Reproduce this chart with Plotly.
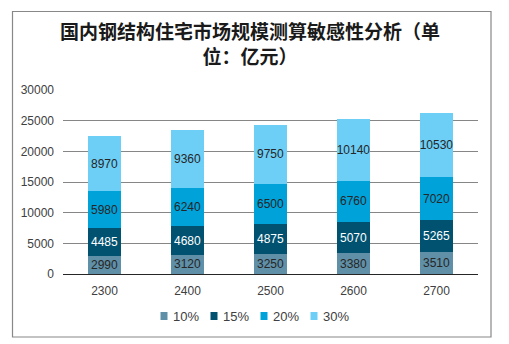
import plotly.graph_objects as go

categories = ["2300", "2400", "2500", "2600", "2700"]
series_names = ["10%", "15%", "20%", "30%"]
v10 = [2990, 3120, 3250, 3380, 3510]
v15 = [4485, 4680, 4875, 5070, 5265]
v20 = [5980, 6240, 6500, 6760, 7020]
v30 = [8970, 9360, 9750, 10140, 10530]
y_ticks = [0, 5000, 10000, 15000, 20000, 25000, 30000]

colors = ["#6090a8", "#005270", "#00a2da", "#6dcff6"]
label_colors = ["#262626", "#ffffff", "#262626", "#262626"]
FONT = "Liberation Sans, Arial, sans-serif"

fig = go.Figure()
for name, vals, col, tcol in zip(series_names, [v10, v15, v20, v30], colors, label_colors):
    fig.add_trace(go.Bar(
        x=categories, y=vals, name=name,
        marker=dict(color=col, line=dict(width=0)),
        text=[str(v) for v in vals],
        textposition="inside", insidetextanchor="middle",
        textangle=0, constraintext="none",
        textfont=dict(family=FONT, size=12, color=tcol),
        showlegend=False,
    ))

# plot area: x 63..478, y 90..274
L, R, T, B = 63, 31, 90, 70
W, H = 509 - L - R, 344 - T - B

def px(x):
    return (x - L) / W

def py(y):
    return (344 - B - y) / H

# legend drawn as swatches + labels in one centred row
shapes = [dict(
    type="rect", xref="paper", yref="paper",
    x0=px(12.5), x1=px(491), y0=py(337), y1=py(11.5),
    line=dict(color="#888888", width=1.2), fillcolor="rgba(0,0,0,0)", layer="below",
)]
annotations = []
leg_y = 316
for i, (name, col) in enumerate(zip(series_names, colors)):
    cx = 164 + 50 * i
    shapes.append(dict(
        type="rect", xref="paper", yref="paper",
        x0=px(cx - 3.5), x1=px(cx + 3.5), y0=py(leg_y + 4), y1=py(leg_y - 4),
        line=dict(width=0), fillcolor=col,
    ))
    annotations.append(dict(
        text=name, xref="paper", yref="paper", x=px(cx + 7), y=py(leg_y),
        xanchor="left", yanchor="middle", showarrow=False,
        font=dict(family=FONT, size=13, color="#404040"),
    ))

fig.update_layout(
    width=509, height=344,
    margin=dict(l=L, r=R, t=T, b=B),
    barmode="stack", bargap=0.6,
    paper_bgcolor="white", plot_bgcolor="white",
    title=dict(
        text="国内钢结构住宅市场规模测算敏感性分析（单<br>位：亿元）",
        x=250 / 509, xanchor="center", xref="container",
        y=1 - 39 / 344, yanchor="top", yref="container",
        font=dict(family="Noto Sans CJK SC", size=19, color="#1a1a1a", weight="bold"),
    ),
    xaxis=dict(
        showgrid=False, showline=False, ticks="", ticklabelstandoff=8,
        tickfont=dict(family=FONT, size=12, color="#404040"),
    ),
    yaxis=dict(
        range=[0, 30000], tickvals=y_ticks, ticktext=[str(t) for t in y_ticks],
        showgrid=True, gridcolor="#868686", gridwidth=1,
        zeroline=True, zerolinecolor="#262626", zerolinewidth=1,
        showline=False, ticks="", ticklabelstandoff=8,
        tickfont=dict(family=FONT, size=12, color="#404040"),
    ),
    showlegend=False,
    shapes=shapes,
    annotations=annotations,
)

fig.write_html("out.html")
